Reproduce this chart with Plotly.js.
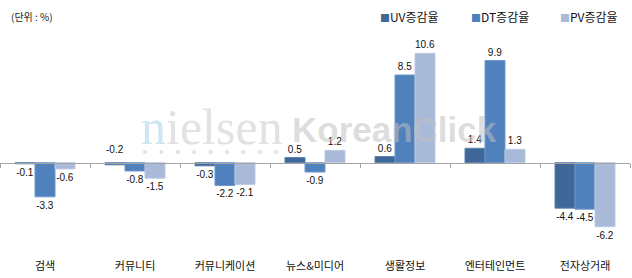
<!DOCTYPE html>
<html>
<head>
<meta charset="utf-8">
<script src="https://cdn.plot.ly/plotly-3.0.1.min.js"></script>
<style>
html,body{margin:0;padding:0;background:#fff;}
#chart{width:632px;height:278px;}
</style>
</head>
<body>
<div id="chart"></div>
<script>
// ---- data ----
const categories = ['검색', '커뮤니티', '커뮤니케이션', '뉴스&미디어', '생활정보', '엔터테인먼트', '전자상거래'];
const uvValues = [-0.1, -0.2, -0.3, 0.5, 0.6, 1.4, -4.4];
const dtValues = [-3.3, -0.8, -2.2, -0.9, 8.5, 9.9, -4.5];
const pvValues = [-0.6, -1.5, -2.1, 1.2, 10.6, 1.3, -6.2];
const seriesNames = ['UV증감율', 'DT증감율', 'PV증감율'];
const unitLabel = '(단위 : %)';

// ---- style ----
const colors = ['#3F6797', '#4F81BD', '#A9BAD9'];
const edgeColors = ['#5a7fae', '#6e97c9', '#bccae3'];
const W = 632, H = 278;
const M = {l: 0, r: 2, t: 30, b: 20};
const plotW = W - M.l - M.r, plotH = H - M.t - M.b;
const yRange = [-9.23, 12.86];
const bargap = 1 / 3;
const zeroFrac = (0 - yRange[0]) / (yRange[1] - yRange[0]);
const px2fx = px => (px - M.l) / plotW;
const py2fy = py => (H - M.b - py) / plotH;

const fmt = v => v.toFixed(1);
const allSeries = [uvValues, dtValues, pvValues];

const traces = allSeries.map((vals, i) => ({
  type: 'bar',
  name: seriesNames[i],
  x: categories,
  y: vals,
  text: vals.map(fmt),
  textposition: vals.map((v, j) => (i === 0 && j === 1) ? 'none' : 'outside'),
  textfont: {family: 'Liberation Sans, Arial, sans-serif', size: 10, color: '#111'},
  constraintext: 'none',
  cliponaxis: false,
  marker: {color: colors[i], line: {color: edgeColors[i], width: 1}},
  showlegend: false,
  hoverinfo: 'skip'
}));

// helper trace so that the zero-line axis knows the categories
traces.push({
  type: 'scatter', mode: 'markers', x: categories, y: categories.map(() => 0),
  xaxis: 'x2', yaxis: 'y', marker: {opacity: 0}, showlegend: false, hoverinfo: 'skip'
});

const annotations = [];
// unit label
annotations.push({
  xref: 'paper', yref: 'paper', x: px2fx(9), y: py2fy(17), xanchor: 'left', yanchor: 'middle',
  text: unitLabel, showarrow: false,
  font: {family: 'Noto Sans CJK KR, sans-serif', size: 10, color: '#222'}
});
// legend
const legendX = [378, 469, 558];
seriesNames.forEach((n, i) => {
  annotations.push({
    xref: 'paper', yref: 'paper', x: px2fx(legendX[i]), y: py2fy(17), xanchor: 'left', yanchor: 'middle',
    text: '<span style="color:' + colors[i] + ';font-size:10px">■</span>' + n,
    showarrow: false,
    font: {family: 'Noto Sans CJK KR, sans-serif', size: 12, color: '#111'}
  });
});
// special label for UV 커뮤니티 (drawn above the zero line)
const catW = plotW / categories.length;
const barW = catW * (1 - bargap) / 3;
annotations.push({
  xref: 'x', yref: 'y', x: categories[1], y: 0, xshift: -barW, yshift: 6,
  yanchor: 'bottom', text: fmt(uvValues[1]), showarrow: false,
  font: {family: 'Liberation Sans, Arial, sans-serif', size: 10, color: '#111'}
});
// watermark
annotations.push({
  xref: 'paper', yref: 'paper', x: px2fx(139), y: py2fy(127), xanchor: 'left', yanchor: 'middle',
  text: '<span style="color:#cfe5f1">n</span>ielsen', showarrow: false,
  font: {family: 'Liberation Serif, serif', size: 50, color: '#e2e2e2'}
});
annotations.push({
  xref: 'paper', yref: 'paper', x: px2fx(290), y: py2fy(129), xanchor: 'left', yanchor: 'middle',
  text: 'KoreanClick', showarrow: false,
  font: {family: 'Liberation Sans, Arial, sans-serif', size: 35, color: 'rgba(192,192,192,0.53)', weight: 'bold'}
});
// watermark dots (shapes)
const shapes = [];
for (let k = 0; k < 9; k++) {
  const cx = 145 + 16.4 * k, cy = 152, r = 2.3;
  shapes.push({
    type: 'circle', xref: 'paper', yref: 'paper', layer: 'below',
    x0: px2fx(cx - r), x1: px2fx(cx + r), y0: py2fy(cy + r), y1: py2fy(cy - r),
    fillcolor: '#e6e6e6', line: {width: 0}
  });
}

const layout = {
  width: W, height: H,
  margin: M,
  paper_bgcolor: '#fff', plot_bgcolor: '#fff',
  barmode: 'group', bargap: bargap, bargroupgap: 0,
  showlegend: false,
  xaxis: {
    type: 'category', range: [-0.5, categories.length - 0.5],
    showline: false, showgrid: false, zeroline: false, ticks: '',
    tickfont: {family: 'Noto Sans CJK KR, sans-serif', size: 11, color: '#111'},
    fixedrange: true
  },
  xaxis2: {
    type: 'category', range: [-0.5, categories.length - 0.5],
    overlaying: 'x', anchor: 'free', position: zeroFrac, side: 'bottom',
    showline: true, linecolor: '#a3a3a3', linewidth: 1.5,
    ticks: 'outside', tickson: 'boundaries', ticklen: 4, tickcolor: '#a3a3a3', tickwidth: 1,
    showticklabels: false, showgrid: false, zeroline: false, fixedrange: true
  },
  yaxis: {
    range: yRange, visible: false, showgrid: false, zeroline: false, fixedrange: true
  },
  shapes: shapes,
  annotations: annotations
};

Plotly.newPlot('chart', traces, layout, {displayModeBar: false, staticPlot: true});
</script>
</body>
</html>
